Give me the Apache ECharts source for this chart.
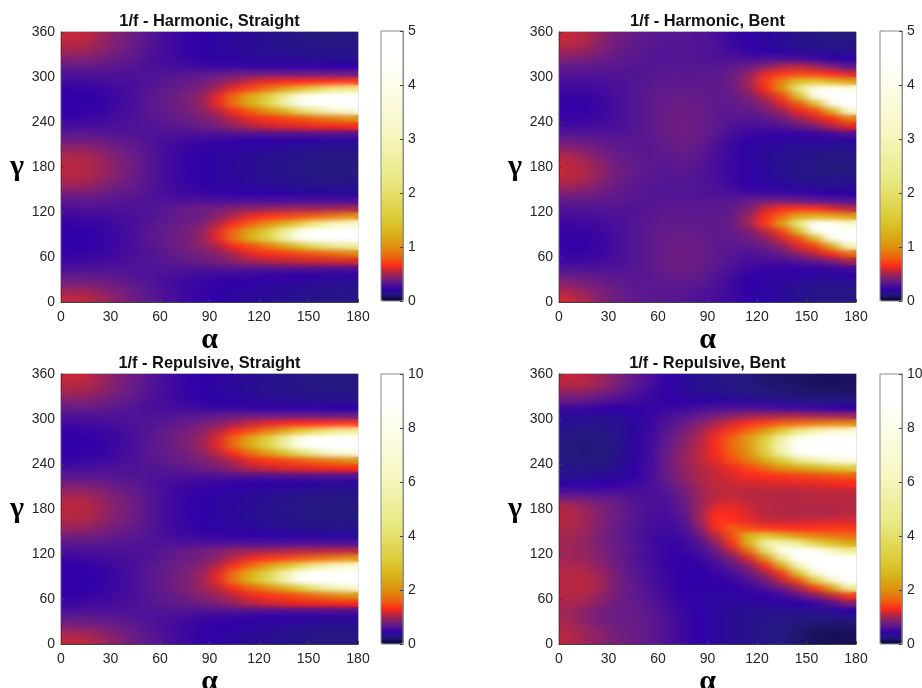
<!DOCTYPE html>
<html><head><meta charset="utf-8">
<style>html,body{margin:0;padding:0;background:#fff}#c{width:922px;height:688px}</style>
<script src="https://cdn.jsdelivr.net/npm/echarts@6/dist/echarts.min.js"></script>
</head><body><div id="c"></div>
<svg width="0" height="0" style="position:absolute"><filter id="soft" x="0" y="0" width="100%" height="100%" color-interpolation-filters="sRGB"><feGaussianBlur stdDeviation="6 2.6"/></filter></svg>
<script>
const alphaCentres=[5,15,25,35,45,55,65,75,85,95,105,115,125,135,145,155,165,175];
const gammaCentres=[5,15,25,35,45,55,65,75,85,95,105,115,125,135,145,155,165,175,185,195,205,215,225,235,245,255,265,275,285,295,305,315,325,335,345,355];
const alphaTicks=30, gammaTicks=60;
const titles=["1/f - Harmonic, Straight","1/f - Harmonic, Bent","1/f - Repulsive, Straight","1/f - Repulsive, Bent"];
const scaleMax=[5,5,10,10];
const scaleStep=[1,1,2,2];
const harmonicStraight=[
[.56,.55,.5,.44,.38,.33,.29,.26,.24,.22,.2,.18,.17,.16,.15,.14,.13,.13],
[.5,.5,.46,.42,.37,.32,.29,.26,.24,.22,.2,.19,.18,.17,.16,.15,.14,.14],
[.42,.42,.4,.37,.34,.31,.28,.26,.24,.23,.22,.21,.2,.19,.18,.17,.16,.15],
[.35,.35,.34,.33,.31,.3,.29,.27,.26,.25,.25,.24,.23,.23,.22,.21,.2,.2],
[.29,.3,.3,.3,.3,.3,.31,.31,.3,.31,.31,.31,.31,.31,.31,.31,.3,.3],
[.25,.26,.27,.28,.3,.31,.33,.35,.38,.41,.46,.5,.53,.55,.57,.58,.59,.6],
[.23,.24,.25,.27,.29,.31,.34,.37,.4,.45,.52,.62,.67,.7,.74,.78,.85,.95],
[.22,.22,.24,.26,.29,.32,.36,.4,.46,.52,.66,.75,.9,1.1,1.5,2,2.4,2.6],
[.22,.22,.24,.26,.29,.33,.36,.4,.46,.62,.88,1.25,1.7,2.7,4.2,5,5,5],
[.22,.22,.24,.26,.29,.33,.36,.4,.46,.62,.85,1.2,1.6,2.5,4,4.8,5,5],
[.23,.24,.25,.27,.29,.32,.35,.38,.42,.54,.67,.8,1,1.25,1.7,2.3,3,3.4],
[.26,.26,.27,.28,.29,.31,.33,.36,.38,.45,.54,.63,.68,.72,.76,.82,.9,1],
[.29,.3,.3,.3,.3,.31,.33,.36,.38,.41,.44,.46,.48,.49,.5,.5,.51,.52],
[.33,.34,.33,.32,.31,.3,.3,.3,.3,.3,.3,.3,.3,.3,.3,.3,.3,.3],
[.4,.4,.38,.35,.33,.3,.28,.26,.25,.24,.23,.22,.22,.21,.2,.2,.19,.19],
[.48,.47,.43,.39,.35,.31,.27,.25,.23,.21,.2,.19,.18,.17,.16,.15,.15,.15],
[.53,.52,.47,.42,.37,.31,.27,.24,.22,.2,.19,.17,.16,.15,.14,.13,.13,.13],
[.55,.54,.49,.43,.37,.31,.27,.24,.22,.2,.18,.17,.15,.14,.13,.12,.12,.12],
[.55,.54,.49,.43,.37,.31,.27,.24,.22,.2,.18,.17,.15,.14,.13,.12,.12,.12],
[.53,.52,.47,.42,.37,.31,.27,.24,.22,.2,.19,.17,.16,.15,.14,.13,.13,.13],
[.47,.47,.43,.39,.35,.31,.27,.25,.23,.21,.2,.19,.18,.17,.16,.15,.15,.15],
[.4,.4,.38,.35,.33,.3,.28,.26,.25,.24,.23,.22,.22,.21,.2,.2,.19,.19],
[.33,.33,.32,.31,.31,.3,.3,.3,.3,.3,.31,.31,.31,.31,.31,.31,.31,.31],
[.28,.28,.29,.3,.3,.31,.32,.34,.37,.41,.47,.53,.57,.6,.62,.64,.65,.66],
[.24,.25,.26,.28,.3,.32,.34,.37,.4,.46,.54,.63,.68,.72,.77,.84,.93,1],
[.22,.23,.24,.27,.29,.33,.36,.4,.45,.54,.67,.8,1,1.3,1.9,2.5,3.2,3.6],
[.22,.22,.23,.26,.29,.33,.37,.41,.47,.63,.88,1.25,1.7,2.7,4.2,5,5,5],
[.22,.22,.24,.26,.29,.33,.36,.41,.47,.62,.85,1.2,1.6,2.5,4,4.8,5,5],
[.23,.24,.25,.27,.29,.32,.35,.38,.42,.52,.64,.74,.88,1.1,1.4,1.8,2.2,2.4],
[.27,.27,.28,.29,.29,.31,.33,.36,.39,.44,.5,.58,.63,.65,.66,.67,.68,.7],
[.3,.3,.3,.3,.3,.3,.31,.32,.33,.35,.37,.38,.38,.38,.38,.38,.38,.38],
[.36,.36,.35,.33,.31,.29,.28,.27,.26,.25,.25,.24,.24,.23,.23,.23,.22,.22],
[.43,.43,.4,.36,.33,.29,.27,.25,.23,.21,.2,.19,.18,.18,.17,.17,.16,.16],
[.5,.49,.45,.4,.35,.3,.27,.24,.22,.2,.19,.17,.16,.15,.15,.14,.14,.14],
[.54,.53,.47,.42,.36,.31,.27,.24,.22,.2,.18,.17,.16,.15,.14,.13,.13,.13],
[.57,.56,.49,.43,.37,.31,.27,.24,.22,.2,.18,.17,.15,.14,.13,.12,.12,.12]];
const harmonicBent=[
[.58,.52,.44,.38,.35,.33,.32,.32,.3,.28,.26,.22,.2,.18,.16,.14,.13,.13],
[.52,.48,.42,.37,.34,.33,.33,.33,.31,.29,.26,.22,.2,.18,.16,.14,.13,.13],
[.45,.42,.39,.35,.33,.33,.34,.34,.33,.3,.26,.22,.2,.18,.17,.16,.15,.15],
[.37,.36,.34,.33,.32,.33,.35,.36,.35,.31,.27,.23,.21,.2,.2,.19,.19,.2],
[.31,.3,.3,.3,.32,.34,.37,.38,.36,.33,.29,.26,.24,.23,.23,.24,.25,.27],
[.26,.26,.27,.29,.31,.34,.37,.38,.37,.34,.31,.28,.28,.29,.31,.34,.4,.5],
[.24,.24,.25,.28,.31,.34,.37,.38,.37,.34,.32,.3,.32,.36,.45,.55,.66,.85],
[.23,.23,.25,.28,.31,.34,.37,.38,.37,.34,.33,.34,.38,.45,.6,.72,1.2,3],
[.23,.23,.25,.28,.31,.34,.36,.37,.36,.34,.35,.38,.45,.58,.75,1.3,4,5],
[.24,.24,.26,.28,.31,.34,.36,.36,.36,.34,.36,.42,.55,.72,1.4,4,5,5],
[.25,.26,.27,.29,.31,.33,.35,.35,.35,.34,.37,.5,.7,1.1,2.2,4.5,4.5,3.4],
[.28,.28,.29,.3,.31,.33,.34,.34,.34,.34,.36,.48,.66,.85,1.2,1.3,1.2,1.1],
[.3,.31,.31,.31,.31,.32,.33,.33,.33,.33,.35,.42,.58,.66,.7,.68,.62,.56],
[.35,.35,.34,.33,.32,.32,.32,.32,.32,.32,.33,.36,.42,.42,.4,.37,.34,.32],
[.42,.41,.38,.35,.33,.32,.31,.31,.31,.3,.29,.28,.27,.26,.25,.24,.22,.21],
[.5,.47,.42,.37,.34,.32,.31,.31,.31,.29,.26,.23,.21,.19,.18,.17,.16,.16],
[.55,.52,.45,.39,.35,.33,.32,.32,.31,.29,.25,.21,.19,.17,.15,.14,.14,.14],
[.56,.54,.47,.4,.36,.33,.32,.33,.31,.28,.25,.21,.19,.16,.14,.13,.12,.12],
[.56,.52,.46,.39,.35,.33,.33,.34,.32,.28,.25,.21,.18,.16,.14,.13,.12,.12],
[.53,.48,.42,.37,.34,.33,.34,.35,.33,.29,.25,.2,.18,.16,.15,.14,.13,.13],
[.46,.43,.39,.35,.33,.33,.35,.37,.34,.3,.25,.2,.18,.17,.16,.15,.15,.15],
[.38,.37,.35,.33,.32,.33,.36,.38,.36,.31,.26,.21,.2,.19,.19,.19,.19,.19],
[.32,.31,.31,.3,.32,.34,.37,.39,.37,.33,.28,.25,.24,.24,.24,.25,.27,.3],
[.27,.27,.28,.29,.31,.34,.37,.39,.37,.34,.3,.28,.29,.31,.35,.42,.52,.62],
[.24,.24,.26,.28,.31,.34,.37,.39,.37,.34,.32,.31,.33,.38,.48,.58,.66,.9],
[.23,.23,.25,.28,.31,.34,.37,.38,.37,.34,.33,.35,.4,.48,.62,.72,1.2,3.2],
[.23,.23,.25,.28,.31,.34,.36,.37,.36,.34,.35,.38,.46,.6,.78,1.4,4,5],
[.24,.24,.26,.28,.31,.34,.36,.36,.36,.34,.36,.42,.55,.72,1.4,3.8,5,5],
[.26,.26,.27,.29,.31,.33,.35,.35,.35,.34,.37,.48,.66,1,2.2,4,4.8,4],
[.28,.28,.29,.3,.31,.33,.34,.34,.34,.34,.38,.5,.7,.95,1.4,1.5,1.3,1.1],
[.31,.31,.31,.31,.31,.32,.33,.33,.33,.33,.37,.46,.62,.7,.74,.72,.66,.6],
[.36,.35,.34,.33,.32,.32,.32,.32,.32,.32,.34,.37,.44,.52,.55,.5,.42,.34],
[.43,.41,.38,.35,.33,.32,.31,.31,.31,.3,.3,.29,.3,.3,.28,.26,.23,.21],
[.49,.47,.42,.37,.34,.32,.31,.31,.31,.29,.27,.24,.22,.2,.18,.17,.16,.16],
[.55,.53,.45,.39,.35,.33,.32,.32,.31,.29,.26,.22,.19,.17,.15,.14,.14,.13],
[.57,.54,.47,.4,.36,.33,.32,.33,.31,.29,.25,.21,.19,.17,.15,.13,.12,.12]];
const repulsiveStraight=[
[1.12,1.1,1,.88,.76,.66,.58,.52,.46,.42,.38,.35,.32,.3,.28,.26,.26,.26],
[1.02,1,.92,.82,.72,.64,.56,.52,.46,.42,.38,.36,.34,.31,.29,.27,.27,.27],
[.84,.84,.8,.74,.68,.62,.56,.52,.48,.44,.42,.4,.38,.36,.34,.32,.3,.3],
[.7,.7,.68,.66,.62,.6,.58,.54,.5,.48,.48,.46,.45,.43,.41,.4,.39,.38],
[.58,.6,.6,.6,.6,.6,.62,.62,.6,.62,.62,.62,.6,.6,.6,.6,.6,.6],
[.5,.52,.54,.56,.6,.64,.68,.72,.78,.84,.96,1.08,1.16,1.22,1.26,1.28,1.3,1.32],
[.46,.46,.5,.54,.58,.64,.7,.78,.88,.98,1.1,1.26,1.36,1.44,1.54,1.7,1.9,2.1],
[.44,.44,.48,.52,.58,.66,.74,.84,.96,1.1,1.34,1.6,1.9,2.4,3.2,4.4,5.6,6.4],
[.44,.44,.46,.52,.58,.66,.74,.84,.96,1.26,1.8,2.6,3.6,5.6,8.6,10,10,10],
[.44,.44,.46,.52,.58,.66,.74,.84,.96,1.24,1.72,2.5,3.4,5.2,8.2,10,10,10],
[.46,.46,.5,.54,.58,.66,.72,.8,.88,1.1,1.36,1.7,2.2,2.8,3.8,5,6.2,7],
[.5,.52,.54,.56,.58,.62,.68,.76,.82,.92,1.1,1.28,1.38,1.46,1.56,1.7,1.84,2],
[.58,.6,.6,.6,.6,.62,.66,.72,.78,.86,.94,.98,1,1.04,1.06,1.08,1.1,1.1],
[.66,.68,.66,.64,.62,.6,.6,.6,.6,.6,.6,.6,.6,.6,.6,.6,.6,.6],
[.8,.8,.76,.7,.66,.6,.56,.52,.5,.48,.46,.44,.43,.42,.41,.4,.38,.38],
[.96,.94,.86,.78,.7,.62,.54,.5,.46,.42,.4,.38,.36,.34,.32,.3,.3,.3],
[1.06,1.04,.94,.84,.74,.62,.54,.48,.44,.4,.38,.34,.32,.3,.28,.26,.26,.26],
[1.1,1.08,.98,.86,.74,.62,.54,.48,.44,.4,.36,.34,.3,.28,.26,.24,.24,.24],
[1.1,1.08,.98,.86,.74,.62,.54,.48,.44,.4,.36,.34,.3,.28,.26,.24,.24,.24],
[1.06,1.04,.94,.84,.74,.62,.54,.48,.44,.4,.38,.34,.32,.3,.28,.26,.26,.26],
[.94,.94,.86,.78,.7,.62,.54,.5,.46,.42,.4,.38,.36,.34,.32,.3,.3,.3],
[.8,.8,.76,.7,.66,.6,.56,.52,.5,.48,.46,.44,.43,.42,.41,.4,.38,.38],
[.66,.66,.64,.62,.62,.6,.6,.6,.6,.6,.62,.62,.62,.62,.62,.62,.62,.62],
[.56,.56,.58,.6,.6,.62,.64,.68,.74,.82,.94,1.06,1.14,1.2,1.24,1.28,1.3,1.32],
[.48,.5,.52,.56,.6,.64,.7,.76,.84,.92,1.08,1.26,1.38,1.46,1.56,1.7,1.84,2],
[.44,.46,.48,.54,.58,.66,.72,.8,.9,1.1,1.36,1.7,2.2,2.9,4,5.4,6.8,7.6],
[.44,.44,.46,.52,.58,.66,.74,.84,.96,1.24,1.72,2.5,3.4,5.2,8.2,10,10,10],
[.44,.44,.48,.52,.58,.66,.74,.84,.96,1.2,1.66,2.4,3.2,5,7.8,9.8,10,10],
[.46,.48,.5,.54,.58,.64,.72,.8,.9,1.08,1.3,1.5,1.8,2.3,3,3.8,4.6,5],
[.54,.54,.56,.58,.6,.62,.66,.72,.8,.88,1,1.12,1.22,1.28,1.32,1.34,1.36,1.4],
[.6,.6,.6,.6,.6,.6,.62,.64,.66,.7,.74,.76,.76,.76,.76,.76,.76,.76],
[.72,.72,.7,.66,.62,.58,.56,.54,.52,.5,.5,.48,.47,.46,.46,.46,.44,.44],
[.86,.86,.8,.72,.66,.58,.54,.5,.46,.42,.4,.38,.36,.35,.34,.33,.32,.32],
[1,.98,.9,.8,.7,.6,.54,.48,.44,.4,.38,.34,.32,.3,.29,.28,.27,.27],
[1.08,1.06,.94,.84,.72,.62,.54,.48,.44,.4,.36,.34,.32,.3,.28,.26,.25,.25],
[1.14,1.12,.98,.86,.74,.62,.54,.48,.44,.4,.36,.34,.3,.28,.26,.24,.24,.24]];
const repulsiveBent=[
[1.1,1,.9,.82,.76,.68,.6,.52,.44,.38,.34,.3,.27,.24,.2,.16,.14,.15],
[1.08,1,.9,.8,.74,.68,.6,.52,.44,.38,.34,.3,.27,.24,.2,.16,.14,.15],
[1.04,.95,.85,.78,.74,.68,.6,.52,.44,.38,.34,.3,.27,.25,.22,.2,.18,.2],
[1,.9,.8,.74,.72,.68,.6,.52,.44,.38,.34,.31,.28,.27,.26,.25,.25,.27],
[1,.92,.82,.75,.72,.66,.58,.5,.42,.38,.35,.32,.31,.31,.31,.33,.36,.42],
[1.04,1,.88,.78,.72,.65,.56,.48,.42,.38,.36,.36,.38,.4,.44,.5,.6,.85],
[1.08,1.05,.94,.8,.7,.62,.54,.46,.42,.4,.4,.42,.46,.52,.65,.85,1.1,1.4],
[1.1,1.1,1,.82,.7,.6,.52,.44,.42,.42,.44,.5,.6,.75,1,1.4,2.2,5],
[1.1,1.1,1,.82,.68,.58,.5,.44,.42,.44,.5,.6,.78,1.1,1.5,3,6,9],
[1.08,1.08,.98,.8,.66,.58,.5,.44,.44,.48,.56,.72,1,1.4,3,6.5,9.5,10],
[1.05,1.02,.92,.76,.64,.56,.48,.44,.46,.54,.68,.9,1.3,2.5,6,9.5,10,10],
[1,.97,.88,.76,.64,.54,.48,.45,.5,.62,.85,1.2,2,5,9,10,10,9.5],
[1,.95,.85,.74,.64,.56,.48,.48,.55,.75,1.1,1.7,4,8,10,8.5,6.5,5],
[1,.95,.84,.74,.64,.54,.48,.5,.62,.9,1.35,2.6,5.5,6,5,3.5,2.8,2.4],
[1.02,.96,.84,.72,.62,.54,.5,.54,.72,1.1,1.5,2.6,3,2.6,2.1,1.9,1.8,1.7],
[1.06,1,.86,.72,.62,.56,.52,.58,.85,1.3,1.6,1.5,1.4,1.35,1.35,1.35,1.38,1.4],
[1.08,1,.86,.74,.64,.56,.54,.62,.95,1.35,1.35,1.25,1.15,1.15,1.16,1.18,1.2,1.2],
[1.08,1,.88,.76,.66,.58,.56,.66,.98,1.3,1.3,1.2,1.1,1.08,1.06,1.06,1.06,1.1],
[1.04,.95,.84,.74,.64,.58,.58,.7,.95,1.2,1.25,1.15,1.1,1.08,1.08,1.08,1.08,1.08],
[.8,.78,.72,.68,.62,.58,.6,.74,.96,1.12,1.15,1.1,1.08,1.08,1.08,1.1,1.1,1.1],
[.56,.56,.56,.56,.56,.58,.64,.78,.98,1.1,1.12,1.1,1.1,1.1,1.1,1.12,1.12,1.14],
[.42,.44,.44,.46,.5,.56,.68,.84,1.02,1.12,1.16,1.18,1.2,1.22,1.24,1.25,1.28,1.32],
[.32,.32,.34,.38,.45,.55,.72,.9,1.04,1.14,1.2,1.32,1.34,1.38,1.45,1.5,1.55,1.6],
[.28,.28,.28,.32,.42,.55,.74,.92,1.06,1.15,1.3,1.45,1.7,2,2.3,2.6,2.9,3.2],
[.26,.24,.24,.3,.4,.54,.74,.94,1.1,1.25,1.5,1.8,2.4,3.2,4.5,5.5,6.8,7.5],
[.24,.22,.23,.28,.38,.54,.72,.92,1.1,1.3,1.6,2,3.2,5.5,8.5,10,10,10],
[.24,.22,.23,.28,.38,.52,.7,.9,1.08,1.3,1.7,2.2,3.5,6,9,10,10,10],
[.26,.23,.24,.28,.38,.52,.68,.86,1.04,1.3,1.65,2.2,3.2,5.5,8,10,10,10],
[.28,.25,.26,.3,.38,.5,.64,.8,.98,1.2,1.4,1.7,2.2,3,4.4,5.6,6.5,7],
[.32,.3,.3,.32,.38,.5,.6,.72,.86,1.04,1.2,1.35,1.45,1.6,1.7,1.8,1.9,1.9],
[.36,.35,.34,.35,.4,.48,.56,.62,.7,.82,.9,.98,1.02,1.04,1.04,1.02,1,.98],
[.52,.5,.46,.44,.45,.48,.5,.52,.56,.6,.6,.6,.58,.55,.53,.5,.47,.45],
[.72,.7,.64,.58,.54,.5,.46,.44,.42,.4,.38,.36,.34,.32,.3,.28,.26,.26],
[.9,.88,.8,.7,.6,.52,.45,.38,.34,.32,.28,.26,.24,.22,.2,.2,.19,.19],
[1.06,1.05,.96,.82,.68,.56,.46,.38,.32,.28,.26,.24,.21,.2,.18,.17,.16,.17],
[1.12,1.1,1,.86,.7,.58,.46,.38,.32,.28,.25,.23,.2,.19,.18,.16,.15,.16]];
const panels=[harmonicStraight,harmonicBent,repulsiveStraight,repulsiveBent];
// colour map: position on a 0..5 bar, colour
const mapPos=[0,.07,.12,.22,.33,.42,.55,.66,.8,1,1.25,1.5,2.2,3.2,4.5,5];
const mapCol=['#0b0a2a','#181055','#251a80','#3000a8','#5a1890','#7a2078','#b82840','#ff2a1c','#f06010','#e09010','#d8b018','#dcc830','#e8e880','#f8f8c8','#ffffff','#ffffff'];
function hex(c){return [1,3,5].map(i=>parseInt(c.substr(i,2),16));}
const ramp=[];
for(let k=0;k<=500;k++){
  const v=k/100;let i=0;
  while(i<mapPos.length-2&&v>mapPos[i+1])i++;
  const t=(v-mapPos[i])/(mapPos[i+1]-mapPos[i]);
  const a=hex(mapCol[i]),b=hex(mapCol[i+1]);
  ramp.push('rgb('+a.map((x,j)=>Math.round(x+(b[j]-x)*t)).join(',')+')');
}
const FONT='"Liberation Sans",Arial,sans-serif';
const TXT='#262626';
const lefts=[61,559,61,559], tops=[32,32,374,374], cbLeft=[381,880,381,880], cbTop=[31,31,374,374];
const PW=297,PH=270;
const grid=[],xAxis=[],yAxis=[],series=[],visualMap=[],title=[];
const mathName={fontFamily:'"Liberation Serif",serif',fontSize:30,fontWeight:'bold',color:'#000'};
panels.forEach((rows,p)=>{
  const data=[];
  rows.forEach((r,y)=>r.forEach((v,x)=>data.push([x,y,v])));
  grid.push({left:lefts[p],top:tops[p],width:PW,height:PH,show:true,borderColor:'#c4c4c4',borderWidth:1,outerBoundsMode:'none'});
  // category axes carry the cells, value axes carry the ticks
  xAxis.push({gridIndex:p,type:'category',data:alphaCentres,show:false,position:'top'});
  yAxis.push({gridIndex:p,type:'category',data:gammaCentres,show:false,position:'right'});
  xAxis.push({gridIndex:p,type:'value',min:0,max:180,interval:alphaTicks,position:'bottom',zlevel:2,
    name:'α',nameLocation:'middle',nameGap:19.5,nameTextStyle:mathName,
    axisLine:{onZero:false,lineStyle:{color:'#404040'}},axisTick:{inside:true,length:3,lineStyle:{color:'#404040'}},
    axisLabel:{color:TXT,fontFamily:FONT,fontSize:14,margin:8},splitLine:{show:false}});
  yAxis.push({gridIndex:p,type:'value',min:0,max:360,interval:gammaTicks,position:'left',zlevel:2,
    name:'γ',nameLocation:'middle',nameRotate:0,nameGap:37,nameTextStyle:mathName,
    axisLine:{onZero:false,lineStyle:{color:'#404040'}},axisTick:{inside:true,length:3,lineStyle:{color:'#404040'}},
    axisLabel:{color:TXT,fontFamily:FONT,fontSize:14,margin:6},splitLine:{show:false}});
  series.push({type:'heatmap',xAxisIndex:p*2,yAxisIndex:p*2,data,progressive:0,silent:true});
  title.push({text:titles[p],left:lefts[p]+PW/2,top:tops[p]-19,textAlign:'center',padding:0,
    textStyle:{fontFamily:FONT,fontWeight:'bold',fontSize:16.4,color:'#111'}});
  visualMap.push({type:'continuous',seriesIndex:[p,p+4],dimension:2,min:0,max:scaleMax[p],show:true,calculable:false,hoverLink:false,
    left:cbLeft[p],top:cbTop[p],itemWidth:22,itemHeight:270,padding:0,text:null,showLabel:false,inRange:{color:ramp},realtime:false});
});
// same cells again on their own layer, softened, so the field reads as continuous
panels.forEach((rows,p)=>{
  series.push({type:'heatmap',xAxisIndex:p*2,yAxisIndex:p*2,data:series[p].data,progressive:0,silent:true,zlevel:1});
});
panels.forEach((rows,p)=>{
  // colour-bar frame, tick marks and labels
  grid.push({left:cbLeft[p],top:cbTop[p],width:22,height:270,show:true,backgroundColor:'transparent',borderColor:'#8c8c8c',borderWidth:1,z:6,outerBoundsMode:'none'});
  xAxis.push({gridIndex:4+p,type:'value',min:0,max:1,show:false});
  yAxis.push({gridIndex:4+p,type:'value',min:0,max:scaleMax[p],interval:scaleStep[p],position:'right',z:7,
    axisLine:{show:true,onZero:false,lineStyle:{color:'#8c8c8c'}},axisTick:{show:true,inside:true,length:3,lineStyle:{color:'#404040'}},
    axisLabel:{color:TXT,fontFamily:FONT,fontSize:14,margin:5},splitLine:{show:false}});
});
const chart=echarts.init(document.getElementById('c'),null,{renderer:'canvas'});
chart.setOption({animation:false,backgroundColor:'#fff',title,grid,xAxis,yAxis,visualMap,series});
const boxes=lefts.map((l,i)=>`M${l} ${tops[i]}h${PW}v${PH}h${-PW}z`).join('');
function soften(){
  const layers=chart.getDom().querySelectorAll('canvas');
  if(layers.length>1){
    layers[1].style.filter='url(#soft)';
    layers[1].style.clipPath=`path("${boxes}")`;
  }
}
soften();
chart.on('finished',soften);
</script></body></html>
